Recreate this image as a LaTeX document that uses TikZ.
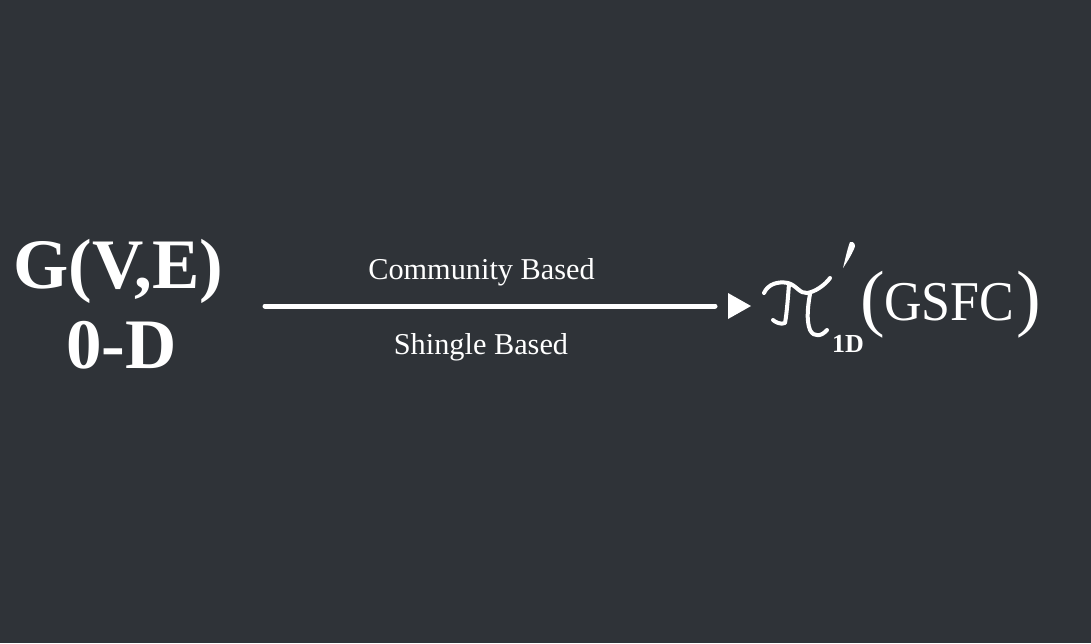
\documentclass[tikz,border=0pt]{standalone}
\usepackage{fontspec}
\setmainfont{Liberation Serif}
\definecolor{bg}{RGB}{47,51,56}
\begin{document}
\begin{tikzpicture}[x=1pt,y=-1pt,
  txt/.style={text=white,inner sep=0pt,anchor=base},
  stroke/.style={draw=white,line width=4pt,line cap=round,line join=round}]
\fill[bg] (0,0) rectangle (1091,643);
\useasboundingbox (0,0) rectangle (1091,643);
% left
\node[txt,font=\fontsize{71}{71}\selectfont\bfseries] (g) at (118.5,288) {G(V,E)};
\node[txt,font=\fontsize{71}{71}\selectfont\bfseries] (d) at (121.5,368) {0-D};
% labels
\node[txt,font=\fontsize{30.3}{30}\selectfont] (cb) at (481.5,279) {Community Based};
\node[txt,font=\fontsize{30.3}{30}\selectfont] (sb) at (481,354) {Shingle Based};
% arrow line
\coordinate (ls) at (265,306);
\coordinate (le) at (715,306);
\draw[white,line width=5pt,line cap=round] (ls) -- (le);
\fill[white] (728,293) -- (751,306) -- (728,319) -- cycle;
% pi (handwritten)
\draw[stroke] (764,293) .. controls (768,284) and (778,281) .. (788,283)
  .. controls (796,285) and (800,294) .. (807,293)
  .. controls (815,292) and (825,285) .. (830,278);
\draw[stroke] (789,284) .. controls (788,296) and (787,312) .. (785,323)
  .. controls (781,325) and (775,322) .. (773,320);
\draw[stroke] (810,294) .. controls (808,305) and (806,320) .. (810,330)
  .. controls (814,338) and (822,336) .. (827,330);
\fill[white] (850,242) .. controls (855,241) and (856,246) .. (854,249)
  .. controls (851,256) and (847,262) .. (843,268)
  .. controls (845,260) and (847,250) .. (850,242) -- cycle;
\node[txt,font=\fontsize{26}{26}\selectfont\bfseries] (sub) at (848,352) {1D};
% GSFC
\node[txt,font=\fontsize{74}{74}\selectfont,anchor=base west] (lp) at (860,322) {(};
\node[txt,font=\fontsize{52}{52}\selectfont,anchor=base west,yscale=1.08] (gs) at (884,320) {GSFC};
\node[txt,font=\fontsize{74}{74}\selectfont,anchor=base east] (rp) at (1041,322) {)};
\end{tikzpicture}
\end{document}
